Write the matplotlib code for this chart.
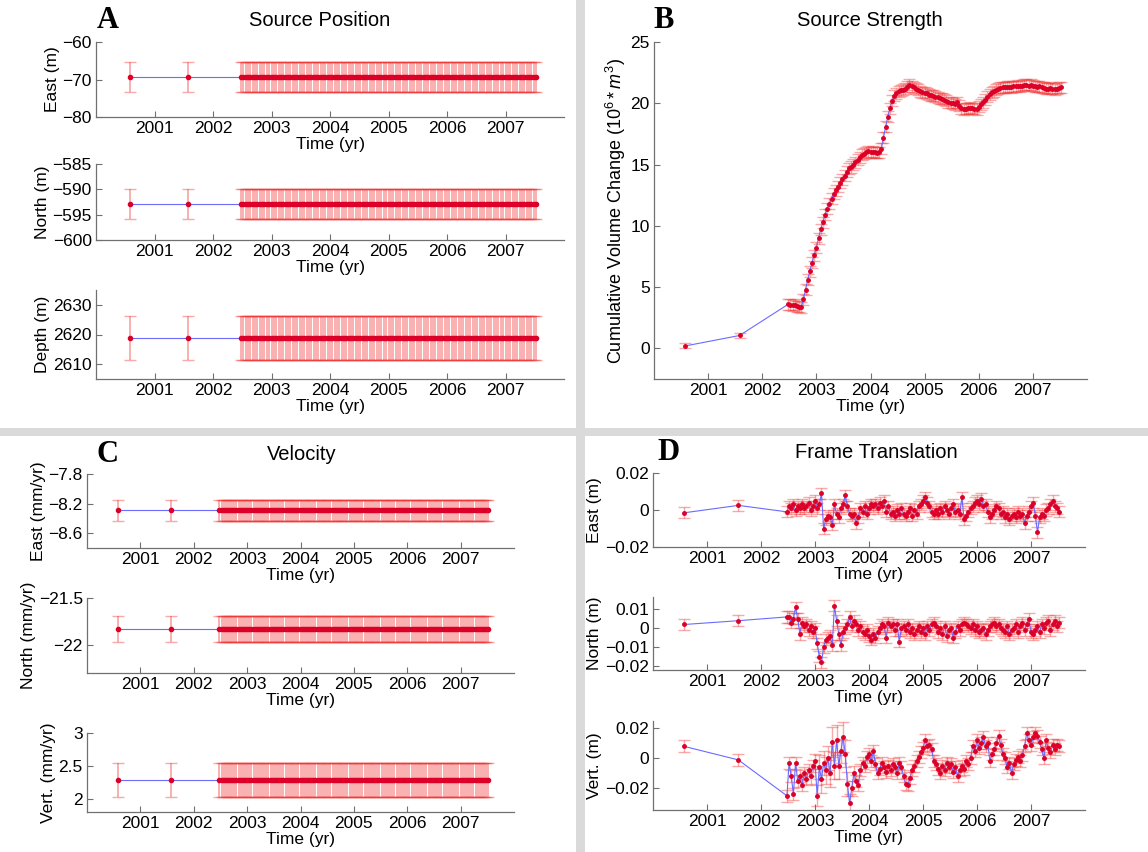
import numpy as np
import matplotlib
matplotlib.use('Agg')
import matplotlib.pyplot as plt
from matplotlib.patches import Rectangle
from matplotlib.ticker import FuncFormatter

plt.rcParams['font.family'] = ['Liberation Sans', 'DejaVu Sans']
plt.rcParams['mathtext.fontset'] = 'custom'
plt.rcParams['mathtext.rm'] = 'Liberation Sans'
plt.rcParams['mathtext.it'] = 'Liberation Sans:italic'

# epochs (yr): two early surveys + dense time series
t_early = [2000.58, 2001.58]
t_dense = [
    2002.48, 2002.52, 2002.56, 2002.60, 2002.64, 2002.68, 2002.72, 2002.76, 2002.80, 2002.84,
    2002.88, 2002.92, 2002.96, 2003.00, 2003.04, 2003.08, 2003.12, 2003.16, 2003.20, 2003.24,
    2003.28, 2003.32, 2003.36, 2003.40, 2003.44, 2003.48, 2003.52, 2003.56, 2003.60, 2003.64,
    2003.68, 2003.72, 2003.76, 2003.80, 2003.84, 2003.88, 2003.92, 2003.96, 2004.00, 2004.04,
    2004.08, 2004.12, 2004.16, 2004.20, 2004.24, 2004.28, 2004.32, 2004.36, 2004.40, 2004.44,
    2004.48, 2004.52, 2004.56, 2004.60, 2004.64, 2004.68, 2004.72, 2004.76, 2004.80, 2004.84,
    2004.88, 2004.92, 2004.96, 2005.00, 2005.04, 2005.08, 2005.12, 2005.16, 2005.20, 2005.24,
    2005.28, 2005.32, 2005.36, 2005.40, 2005.44, 2005.48, 2005.52, 2005.56, 2005.60, 2005.64,
    2005.68, 2005.72, 2005.76, 2005.80, 2005.84, 2005.88, 2005.92, 2005.96, 2006.00, 2006.04,
    2006.08, 2006.12, 2006.16, 2006.20, 2006.24, 2006.28, 2006.32, 2006.36, 2006.40, 2006.44,
    2006.48, 2006.52, 2006.56, 2006.60, 2006.64, 2006.68, 2006.72, 2006.76, 2006.80, 2006.84,
    2006.88, 2006.92, 2006.96, 2007.00, 2007.04, 2007.08, 2007.12, 2007.16, 2007.20, 2007.24,
    2007.28, 2007.32, 2007.36, 2007.40, 2007.44, 2007.48, 2007.52]

# A: source position (constant estimates, value / 1-sigma)
pos_east, pos_east_err = -69.3, 4.1
pos_north, pos_north_err = -592.9, 2.95
pos_depth, pos_depth_err = 2618.8, 7.45

# C: velocity (mm/yr)
vel_east, vel_east_err = -8.29, 0.14
vel_north, vel_north_err = -21.83, 0.14
vel_vert, vel_vert_err = 2.29, 0.26

# B: cumulative volume change (10^6 m^3)
vol_early = [0.2, 1.05]
vol_dense = [
    3.6, 3.55, 3.5, 3.55, 3.45, 3.4, 3.35, 4.0, 4.8, 5.6,
    6.3, 7.0, 7.6, 8.2, 9.0, 9.7, 10.3, 10.9, 11.4, 11.8,
    12.2, 12.6, 12.9, 13.2, 13.5, 13.8, 14.1, 14.4, 14.7, 14.8,
    15.0, 15.2, 15.4, 15.6, 15.8, 15.9, 16.0, 16.1, 16.0, 16.05,
    16.0, 15.95, 16.0, 16.3, 17.2, 18.1, 18.9, 19.6, 20.2, 20.6,
    20.8, 21.0, 21.05, 21.1, 21.2, 21.35, 21.5, 21.4, 21.3, 21.2,
    21.1, 21.0, 20.9, 20.85, 20.8, 20.7, 20.65, 20.6, 20.55, 20.5,
    20.4, 20.35, 20.3, 20.2, 20.1, 20.05, 20.0, 19.9, 20.1, 19.8,
    19.6, 19.5, 19.55, 19.6, 19.65, 19.6, 19.55, 19.5, 19.7, 19.9,
    20.1, 20.3, 20.55, 20.75, 20.9, 21.0, 21.1, 21.2, 21.25, 21.3,
    21.3, 21.35, 21.35, 21.3, 21.4, 21.4, 21.45, 21.4, 21.45, 21.5,
    21.5, 21.45, 21.5, 21.45, 21.4, 21.35, 21.4, 21.3, 21.25, 21.2,
    21.2, 21.25, 21.2, 21.15, 21.2, 21.25, 21.3]
vol_err_early = [0.2, 0.2]
vol_err_dense = 0.45

# D: frame translation (m)
fr_east_early = [-0.0015, 0.0025]
fr_east_dense = [
    -0.001, 0.002, 0.001, 0.003, 0.000, 0.002, 0.001, 0.003, 0.001, 0.002,
    0.004, 0.000, 0.002, 0.005, 0.001, 0.003, 0.009, -0.010, -0.005, -0.003,
    -0.004, -0.008, 0.003, -0.002, -0.004, 0.001, 0.003, 0.008, 0.002, -0.002,
    -0.003, -0.002, -0.007, -0.004, 0.001, -0.001, 0.002, -0.002, 0.001, 0.003,
    0.002, 0.003, 0.001, 0.004, 0.002, 0.005, -0.001, 0.002, -0.002, -0.001,
    -0.003, 0.000, -0.002, 0.001, -0.002, -0.003, -0.001, 0.001, -0.003, 0.000,
    -0.002, 0.002, 0.003, 0.005, 0.007, 0.004, 0.002, -0.001, -0.002, 0.000,
    -0.002, 0.001, -0.001, 0.002, 0.000, -0.002, 0.001, 0.003, -0.001, 0.000,
    -0.002, 0.007, -0.005, -0.003, -0.001, 0.001, 0.002, 0.004, 0.005, 0.003,
    0.006, 0.002, 0.003, -0.001, -0.004, -0.002, 0.000, 0.002, 0.001, -0.002,
    -0.001, -0.004, -0.002, -0.005, -0.003, -0.002, -0.004, -0.001, -0.003, -0.002,
    -0.007, -0.003, -0.001, 0.002, 0.004, -0.003, -0.012, -0.004, -0.002, -0.003,
    0.000, 0.001, 0.003, 0.005, 0.002, 0.001, -0.001]
fr_east_err = 0.003

fr_north_early = [0.002, 0.004]
fr_north_dense = [
    0.006, 0.006, 0.003, 0.005, 0.011, 0.005, -0.003, 0.003, 0.001, 0.002,
    -0.001, 0.001, -0.002, 0.000, -0.008, -0.015, -0.018, -0.010, -0.006, -0.005,
    -0.004, -0.009, 0.012, 0.004, -0.003, -0.009, -0.002, 0.000, 0.002, 0.006,
    0.001, 0.004, 0.002, -0.001, 0.001, -0.002, -0.003, -0.001, -0.004, -0.006,
    -0.003, -0.005, -0.002, 0.000, 0.002, 0.001, -0.005, 0.003, 0.001, 0.002,
    -0.001, 0.002, -0.007, 0.000, 0.001, -0.001, 0.002, -0.002, 0.000, -0.003,
    -0.001, 0.001, -0.002, 0.000, -0.003, 0.001, -0.001, 0.002, 0.003, 0.001,
    -0.002, 0.000, -0.003, 0.001, -0.004, -0.001, 0.000, -0.005, -0.002, 0.001,
    -0.001, 0.002, 0.003, 0.002, 0.001, 0.000, 0.002, -0.001, 0.001, -0.002,
    -0.001, 0.000, -0.003, -0.001, 0.001, 0.002, 0.003, 0.001, 0.002, 0.000,
    -0.001, -0.002, 0.001, -0.003, -0.001, 0.000, 0.002, -0.002, 0.001, 0.003,
    -0.001, 0.002, 0.005, -0.002, -0.003, -0.001, 0.001, -0.002, 0.002, 0.000,
    0.003, 0.004, -0.001, 0.002, 0.004, 0.001, 0.003]
fr_north_err = 0.003

fr_vert_early = [0.008, -0.001]
fr_vert_dense = [
    -0.025, -0.003, -0.012, -0.024, -0.003, -0.015, -0.012, -0.018, -0.010, -0.014,
    -0.008, -0.012, -0.005, -0.002, -0.025, -0.006, -0.014, -0.003, -0.008, 0.000,
    -0.010, 0.011, -0.005, 0.012, -0.005, 0.005, 0.014, 0.003, -0.017, -0.030,
    -0.020, -0.010, -0.015, -0.018, -0.008, -0.003, -0.005, 0.001, 0.003, -0.002,
    0.005, -0.004, -0.010, -0.007, -0.003, -0.006, -0.009, -0.005, -0.008, -0.004,
    -0.006, -0.010, -0.003, -0.006, -0.012, -0.017, -0.018, -0.013, -0.008, -0.005,
    -0.002, 0.001, 0.004, 0.007, 0.012, 0.008, 0.009, 0.006, -0.002, -0.004,
    -0.007, -0.010, -0.005, -0.008, -0.003, -0.006, -0.004, -0.009, -0.006, -0.012,
    -0.008, -0.005, -0.007, -0.002, -0.004, 0.000, 0.008, 0.005, 0.012, 0.007,
    0.010, 0.014, 0.008, 0.010, -0.002, 0.003, 0.006, 0.010, 0.015, 0.009,
    0.003, 0.000, -0.006, -0.003, -0.010, -0.004, -0.001, 0.001, -0.002, 0.002,
    0.008, 0.017, 0.012, 0.009, 0.014, 0.017, 0.015, 0.011, 0.006, 0.000,
    0.012, 0.007, 0.004, 0.009, 0.006, 0.009, 0.008]
fr_vert_err_early = [0.004, 0.004]
fr_vert_err_dense = [
    0.004, 0.004, 0.004, 0.004, 0.004, 0.004, 0.004, 0.004, 0.004, 0.004,
    0.004, 0.005, 0.004, 0.005, 0.007, 0.008, 0.009, 0.008, 0.009, 0.008,
    0.009, 0.010, 0.009, 0.010, 0.009, 0.008, 0.010, 0.009, 0.008, 0.006,
    0.005, 0.005, 0.004, 0.004, 0.004, 0.004, 0.004, 0.004, 0.004, 0.004,
    0.004, 0.004, 0.004, 0.004, 0.004, 0.004, 0.004, 0.004, 0.004, 0.004,
    0.004, 0.004, 0.004, 0.004, 0.004, 0.004, 0.004, 0.004, 0.004, 0.004,
    0.004, 0.004, 0.004, 0.004, 0.004, 0.004, 0.004, 0.004, 0.004, 0.004,
    0.004, 0.004, 0.004, 0.004, 0.004, 0.004, 0.004, 0.004, 0.004, 0.004,
    0.004, 0.004, 0.004, 0.004, 0.004, 0.004, 0.004, 0.004, 0.004, 0.004,
    0.004, 0.004, 0.004, 0.004, 0.004, 0.004, 0.004, 0.004, 0.004, 0.004,
    0.004, 0.004, 0.004, 0.004, 0.004, 0.004, 0.004, 0.004, 0.004, 0.004,
    0.004, 0.004, 0.004, 0.004, 0.004, 0.004, 0.004, 0.004, 0.004, 0.004,
    0.004, 0.004, 0.004, 0.004, 0.004, 0.004, 0.004]

ERR_COLOR = (0.95, 0.2, 0.2, 0.42)
LINE_COLOR = '#6b6bff'
DOT_COLOR = '#dc0028'
AXIS_COLOR = '#707070'
FIG_W, FIG_H = 1148, 852


def fmt_g(v, pos):
    return ('%g' % v).replace('-', '\u2212')


def add_axes(fig, left, right, top, bottom):
    # pixel box -> figure fraction
    return fig.add_axes([left / FIG_W, 1 - bottom / FIG_H,
                         (right - left) / FIG_W, (bottom - top) / FIG_H])


def style_axes(ax, ylim, yticks, ylabel, ylabel_size=12.5):
    ax.set_xlim(2000, 2008)
    ax.set_xticks(range(2001, 2008))
    ax.set_ylim(*ylim)
    ax.set_yticks(yticks)
    ax.yaxis.set_major_formatter(FuncFormatter(fmt_g))
    for side in ['top', 'right']:
        ax.spines[side].set_visible(False)
    for side in ['left', 'bottom']:
        ax.spines[side].set_color(AXIS_COLOR)
        ax.spines[side].set_linewidth(0.9)
    ax.tick_params(direction='in', length=4, width=0.8, color=AXIS_COLOR,
                   labelsize=12.5, pad=3)
    ax.set_xlabel('Time (yr)', fontsize=12.5, labelpad=0.5)
    ax.set_ylabel(ylabel, fontsize=ylabel_size, labelpad=2)


def draw_series(ax, t, y, err, ms=5, elw=1.0):
    ax.errorbar(t, y, yerr=err, fmt='none', ecolor=ERR_COLOR, elinewidth=elw,
                capsize=4, capthick=1.0, zorder=2)
    ax.plot(t, y, color=LINE_COLOR, lw=0.8, zorder=3)
    ax.plot(t, y, '.', color=DOT_COLOR, ms=ms, zorder=4)


def panel_label(fig, x, y, letter, title, title_x):
    fig.text(title_x / FIG_W, 1 - y / FIG_H, title, ha='center', va='center', fontsize=14.5)
    fig.text(x / FIG_W, 1 - y / FIG_H, letter, ha='center', va='center', fontsize=22,
             fontweight='bold', family='Liberation Serif')


def main():
    t = np.array(t_early + t_dense)
    n = len(t)

    fig = plt.figure(figsize=(FIG_W / 100, FIG_H / 100), dpi=100)
    fig.patch.set_facecolor('white')

    # gray separators between the four panels
    fig.patches.append(Rectangle((576 / FIG_W, 0), 9 / FIG_W, 1, transform=fig.transFigure,
                                 facecolor='#dadada', edgecolor='none', zorder=0))
    fig.patches.append(Rectangle((0, 1 - 436 / FIG_H), 1, 8 / FIG_H, transform=fig.transFigure,
                                 facecolor='#dadada', edgecolor='none', zorder=0))

    # ---- A: source position
    ax = add_axes(fig, 96, 564, 42, 117)
    draw_series(ax, t, np.full(n, pos_east), pos_east_err, ms=6, elw=1.3)
    style_axes(ax, (-80, -60), [-80, -70, -60], 'East (m)')
    ax = add_axes(fig, 96, 564, 164, 240)
    draw_series(ax, t, np.full(n, pos_north), pos_north_err, ms=6, elw=1.3)
    style_axes(ax, (-600, -585), [-600, -595, -590, -585], 'North (m)')
    ax = add_axes(fig, 96, 564, 290, 379)
    draw_series(ax, t, np.full(n, pos_depth), pos_depth_err, ms=6, elw=1.3)
    style_axes(ax, (2605, 2635), [2610, 2620, 2630], 'Depth (m)')
    panel_label(fig, 108, 20, 'A', 'Source Position', 320)

    # ---- B: source strength
    ax = add_axes(fig, 654, 1087, 42, 379)
    vol = np.array(vol_early + vol_dense)
    vol_err = np.array(vol_err_early + [vol_err_dense] * len(vol_dense))
    draw_series(ax, t, vol, vol_err, ms=5)
    style_axes(ax, (-2.5, 25), [0, 5, 10, 15, 20, 25],
               r'Cumulative Volume Change $\mathit{(10^6 * m^3)}$', ylabel_size=13)
    panel_label(fig, 664, 20, 'B', 'Source Strength', 870)

    # ---- C: velocity
    ax = add_axes(fig, 87, 514, 474, 548)
    draw_series(ax, t, np.full(n, vel_east), vel_east_err, ms=6, elw=1.3)
    style_axes(ax, (-8.8, -7.8), [-8.6, -8.2, -7.8], 'East (mm/yr)')
    ax = add_axes(fig, 87, 514, 598, 673)
    draw_series(ax, t, np.full(n, vel_north), vel_north_err, ms=6, elw=1.3)
    style_axes(ax, (-22.3, -21.5), [-22, -21.5], 'North (mm/yr)')
    ax = add_axes(fig, 87, 514, 733, 812)
    draw_series(ax, t, np.full(n, vel_vert), vel_vert_err, ms=6, elw=1.3)
    style_axes(ax, (1.8, 3), [2, 2.5, 3], 'Vert. (mm/yr)')
    panel_label(fig, 108, 455, 'C', 'Velocity', 302)

    # ---- D: frame translation
    ax = add_axes(fig, 653, 1085, 473, 547)
    draw_series(ax, t, np.array(fr_east_early + fr_east_dense), fr_east_err)
    style_axes(ax, (-0.02, 0.02), [-0.02, 0, 0.02], 'East (m)')
    ax = add_axes(fig, 653, 1085, 597, 670)
    draw_series(ax, t, np.array(fr_north_early + fr_north_dense), fr_north_err)
    style_axes(ax, (-0.022, 0.0165), [-0.02, -0.01, 0, 0.01], 'North (m)')
    ax = add_axes(fig, 653, 1085, 721, 810)
    draw_series(ax, t, np.array(fr_vert_early + fr_vert_dense),
                np.array(fr_vert_err_early + fr_vert_err_dense))
    style_axes(ax, (-0.0345, 0.025), [-0.02, 0, 0.02], 'Vert. (m)')
    panel_label(fig, 668, 453, 'D', 'Frame Translation', 876)

    fig.savefig('out.png', dpi=100)


if __name__ == '__main__':
    main()
